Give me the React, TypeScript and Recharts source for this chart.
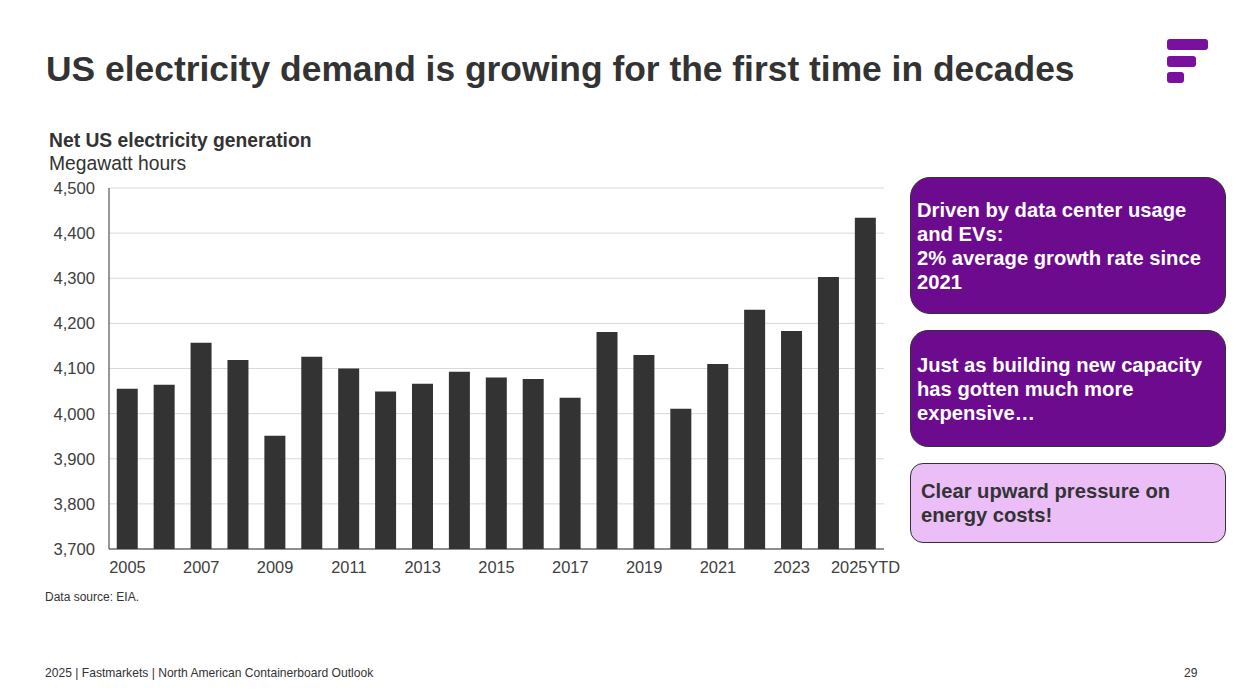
import React from "react";
import { BarChart, Bar, XAxis, YAxis, CartesianGrid } from "recharts";

const years = [
  "2005", "2006", "2007", "2008", "2009", "2010", "2011", "2012", "2013", "2014", "2015",
  "2016", "2017", "2018", "2019", "2020", "2021", "2022", "2023", "2024", "2025YTD",
];
const generation = [
  4055, 4064, 4157, 4119, 3951, 4126, 4100, 4049, 4066, 4093, 4080,
  4077, 4035, 4181, 4130, 4011, 4110, 4230, 4183, 4303, 4434,
];
const yTicks = [3700, 3800, 3900, 4000, 4100, 4200, 4300, 4400, 4500];

const data = years.map((year, i) => ({ year, value: generation[i] }));

const FONT = "'Liberation Sans', Arial, sans-serif";
const TEXT = "#333333";
const PURPLE = "#6c0b8e";

const boxBase: React.CSSProperties = {
  position: "absolute",
  left: 910,
  width: 316,
  boxSizing: "border-box",
  border: "1.5px solid #333",
  display: "flex",
  alignItems: "center",
  fontWeight: 700,
  fontSize: 20.2,
  lineHeight: "24px",
};

export default function App() {
  return (
    <div
      style={{
        position: "absolute",
        left: 0,
        top: 0,
        width: 1256,
        height: 700,
        background: "#fff",
        fontFamily: FONT,
        color: TEXT,
        overflow: "hidden",
      }}
    >
      <div style={{ position: "absolute", left: 46, top: 49, fontSize: 35.4, fontWeight: 700, whiteSpace: "nowrap" }}>
        US electricity demand is growing for the first time in decades
      </div>

      {/* logo */}
      <div style={{ position: "absolute", left: 1167, top: 39, width: 41, height: 11, borderRadius: 3, background: "#7a109e" }} />
      <div style={{ position: "absolute", left: 1167, top: 56, width: 29, height: 11, borderRadius: 3, background: "#7a109e" }} />
      <div style={{ position: "absolute", left: 1167, top: 72, width: 17, height: 11, borderRadius: 3, background: "#7a109e" }} />

      <div style={{ position: "absolute", left: 49, top: 130, fontSize: 19.3, fontWeight: 700 }}>
        Net US electricity generation
      </div>
      <div style={{ position: "absolute", left: 49, top: 153, fontSize: 19.3 }}>Megawatt hours</div>

      <div style={{ position: "absolute", left: 0, top: 170 }}>
        <BarChart
          width={900}
          height={420}
          data={data}
          margin={{ top: 18, right: 16, bottom: 11, left: 0 }}
          barCategoryGap="21%"
        >
          <CartesianGrid vertical={false} stroke="#d9d9d9" strokeWidth={1} />
          <XAxis
            dataKey="year"
            interval={1}
            tickLine={false}
            tickSize={0}
            tickMargin={12}
            height={30}
            stroke="#333"
            tick={{ fill: "#404040", fontSize: 16.4, fontFamily: FONT }}
          />
          <YAxis
            domain={[3700, 4500]}
            ticks={yTicks}
            width={109}
            tickLine={false}
            tickSize={0}
            tickMargin={14}
            stroke="#333"
            tickFormatter={(v: number) => v.toLocaleString("en-US")}
            tick={{ fill: "#404040", fontSize: 16.6, fontFamily: FONT }}
          />
          <Bar dataKey="value" fill="#333333" isAnimationActive={false} />
        </BarChart>
      </div>

      <div
        style={{
          ...boxBase,
          top: 177,
          height: 137,
          borderRadius: 20,
          background: PURPLE,
          color: "#fff",
          paddingLeft: 6,
        }}
      >
        <div>
          Driven by data center usage
          <br />
          and EVs:
          <br />
          2% average growth rate since
          <br />
          2021
        </div>
      </div>

      <div
        style={{
          ...boxBase,
          top: 330,
          height: 117,
          borderRadius: 18,
          background: PURPLE,
          color: "#fff",
          paddingLeft: 6,
        }}
      >
        <div>
          Just as building new capacity
          <br />
          has gotten much more
          <br />
          expensive…
        </div>
      </div>

      <div
        style={{
          ...boxBase,
          top: 463,
          height: 80,
          borderRadius: 13,
          background: "#ebbef8",
          color: TEXT,
          paddingLeft: 10,
        }}
      >
        <div>
          Clear upward pressure on
          <br />
          energy costs!
        </div>
      </div>

      <div style={{ position: "absolute", left: 45, top: 590, fontSize: 12 }}>Data source: EIA.</div>
      <div style={{ position: "absolute", left: 45, top: 666, fontSize: 12.1 }}>
        2025 | Fastmarkets | North American Containerboard Outlook
      </div>
      <div style={{ position: "absolute", left: 1184, top: 666, fontSize: 12.1 }}>29</div>
    </div>
  );
}
